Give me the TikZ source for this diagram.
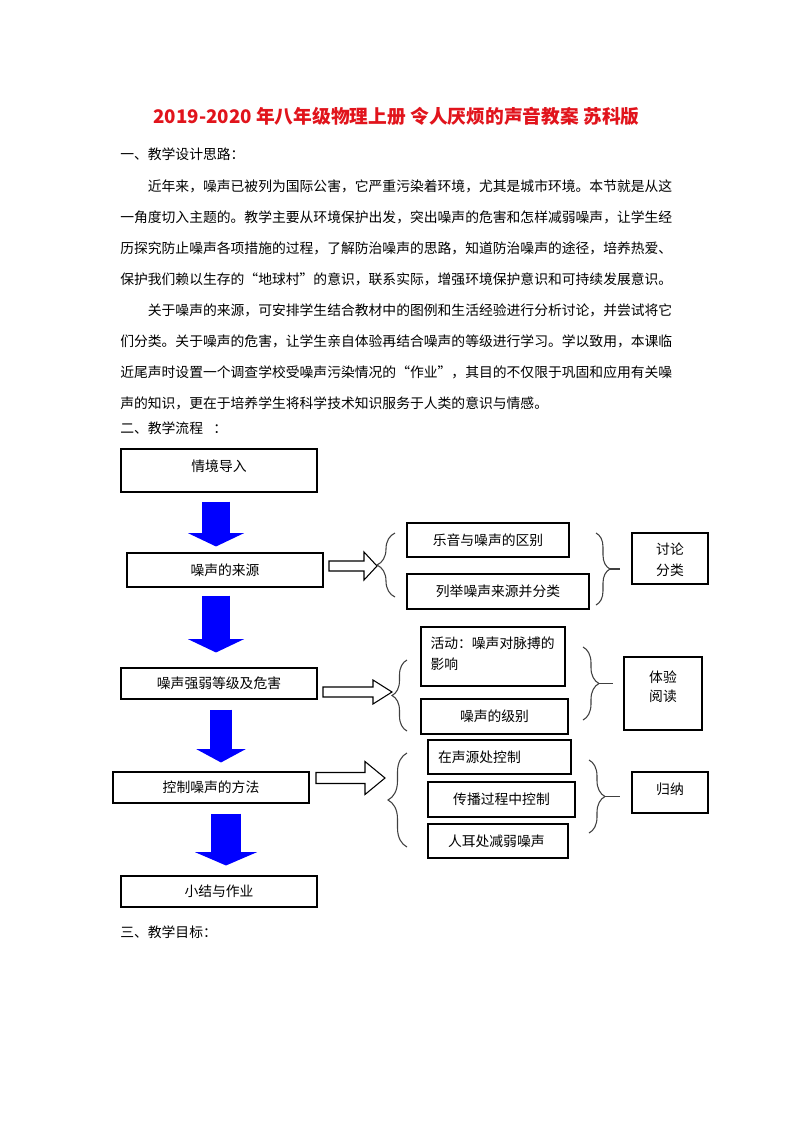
\documentclass[tikz,border=0pt]{standalone}
\usepackage{fontspec}
\setmainfont{Noto Sans CJK SC}
\usetikzlibrary{arrows.meta,decorations.pathreplacing}

\definecolor{titlered}{RGB}{225,20,28}
\newcommand{\ql}{\makebox[1em][r]{“}}
\newcommand{\qr}{\makebox[1em][l]{”}}
\newcommand{\bodysize}{\fontsize{10.35}{15.75}\selectfont}

\tikzset{
  txt/.style={inner sep=0pt, anchor=west, font=\bodysize, text height=9.1pt, text depth=1.25pt},
  box/.style={draw, line width=0.8pt, inner sep=0pt, font=\bodysize, align=center, text height=9.1pt, text depth=1.25pt},
  sz/.style 2 args={minimum width=#1*0.75pt, minimum height=#2*0.75pt},
  lift/.style={text depth=#1},
  flow/.style 2 args={draw=blue, line width=#1, -{Triangle[width=#2, length=10pt, line width=0pt]}},
  hollow/.style={draw, line width=0.8pt, line join=miter},
  curly/.style={decorate, decoration={brace, amplitude=#1}, draw=black!75, line width=0.8pt},
}

\begin{document}
\begin{tikzpicture}[x=0.75pt, y=-0.75pt]
        % Page
        \path[fill=white, use as bounding box] (0,0) rectangle (793,1122);
        % Title
        \node[txt, anchor=center, font=\fontsize{14.05}{17}\selectfont\bfseries, text=titlered, text height=12.4pt, text depth=1.7pt]
            (title) at (396.5,116) {2019-2020 年八年级物理上册 令人厌烦的声音教案 苏科版};
        % Text lines
        \foreach \n/\y/\t in {
            1/154/{一、教学设计思路：},
            2/186/{\hspace*{2em}近年来，噪声已被列为国际公害，它严重污染着环境，尤其是城市环境。本节就是从这},
            3/217/{一角度切入主题的。教学主要从环境保护出发，突出噪声的危害和怎样减弱噪声，让学生经},
            4/248/{历探究防止噪声各项措施的过程，了解防治噪声的思路，知道防治噪声的途径，培养热爱、},
            5/279/{保护我们赖以生存的\ql 地球村\qr 的意识，联系实际，增强环境保护意识和可持续发展意识。},
            6/310/{\hspace*{2em}关于噪声的来源，可安排学生结合教材中的图例和生活经验进行分析讨论，并尝试将它},
            7/341/{们分类。关于噪声的危害，让学生亲自体验再结合噪声的等级进行学习。学以致用，本课临},
            8/372/{近尾声时设置一个调查学校受噪声污染情况的\ql 作业\qr ，其目的不仅限于巩固和应用有关噪},
            9/403/{声的知识，更在于培养学生将科学技术知识服务于人类的意识与情感。},
            10/428/{二、教学流程\hspace{0.75em}：},
            11/932/{三、教学目标：}}
            \node[txt] (l\n) at (120,\y) {\t};
        % Main column
        \node[box, sz={196}{43}, lift=8.05pt] (intro) at (219,470.5) {情境导入};
        \node[box, sz={196}{34}] (src) at (225,570) {噪声的来源};
        \node[box, sz={196}{31}] (level) at (219,683.5) {噪声强弱等级及危害};
        \node[box, sz={196}{31}] (ctrl) at (211,787.5) {控制噪声的方法};
        \node[box, sz={196}{31}] (summ) at (219,891.5) {小结与作业};
        % Blue arrows
        \draw[flow={21pt}{42pt}, shorten <=6.75pt, shorten >=4.5pt]
            ([xshift=-2.25pt]intro.south) -- ([xshift=-2.25pt]intro.south |- src.north);
        \draw[flow={21pt}{42pt}, shorten <=6pt, shorten >=11.25pt]
            ([xshift=-6.75pt]src.south) -- ([xshift=-6.75pt]src.south |- level.north);
        \draw[flow={17pt}{37pt}, shorten <=7.5pt, shorten >=6.75pt]
            ([xshift=1.5pt]level.south) -- ([xshift=1.5pt]level.south |- ctrl.north);
        \draw[flow={22.5pt}{46.5pt}, shorten <=7.5pt, shorten >=7.5pt]
            ([xshift=11.25pt]ctrl.south) -- ([xshift=11.25pt]ctrl.south |- summ.north);
        % Hollow arrows (tail, shaft length, shaft half, head half, head length)
        \coordinate (t1) at (329,566);
        \coordinate (t2) at (323,692);
        \coordinate (t3) at (316,778);
        \foreach \t/\s/\a/\b/\c in {t1/35/5/14/13, t2/50/5/12/19, t3/49/5.5/16.5/20}
            \draw[hollow] (\t) ++(0,-\a) -- ++(\s,0) -- ++(0,{\a-\b}) -- ++(\c,\b)
                -- ++(-\c,\b) -- ++(0,{\a-\b}) -- ++(-\s,0) -- cycle;
        % Middle column
        \node[box, sz={162}{34}] (diff) at (488,540) {乐音与噪声的区别};
        \node[box, sz={182}{35}] (list) at (498,591.5) {列举噪声来源并分类};
        \node[box, sz={144}{59}, align=left, text width=93.75pt, lift=21.55pt] (pulse) at (493,656.5) {活动：噪声对脉搏的\\影响};
        \node[box, sz={147}{35}] (grade) at (494.5,716.5) {噪声的级别};
        \node[box, sz={143}{34}, align=left, text width=92.25pt] (atsrc) at (499.5,757) {在声源处控制};
        \node[box, sz={147}{35}] (spread) at (501.5,799.5) {传播过程中控制};
        \node[box, sz={140}{34}, align=left, text width=75pt] (ear) at (498,841) {人耳处减弱噪声};
        % Right column
        \node[box, sz={76}{51}, text height=26.3pt] (disc) at (670,558.5) {讨论\\分类};
        \node[box, sz={78}{73}, text height=12.8pt] (exper) at (663,693.5) {体验\\[-1.5pt]阅读};
        \node[box, sz={76}{41}, lift=6.55pt] (induct) at (670,792.5) {归纳};
        % Braces
        \draw[curly=13.5pt] (395,597) -- (395,533);
        \draw[curly=11.25pt] (407,731) -- (407,660);
        \draw[curly=14.25pt] (407,847) -- (407,753);
        \draw[curly=10.5pt] (596,533) -- (596,605);
        \draw[curly=12pt] (583,647) -- (583,720);
        \draw[curly=12pt] (589,760) -- (589,833);
        \foreach \a/\b/\y in {610/620/569, 599/613/683.5, 605/620/796.5}
            \draw[black!75, line width=0.8pt] (\a,\y) -- (\b,\y);
\end{tikzpicture}
\end{document}
